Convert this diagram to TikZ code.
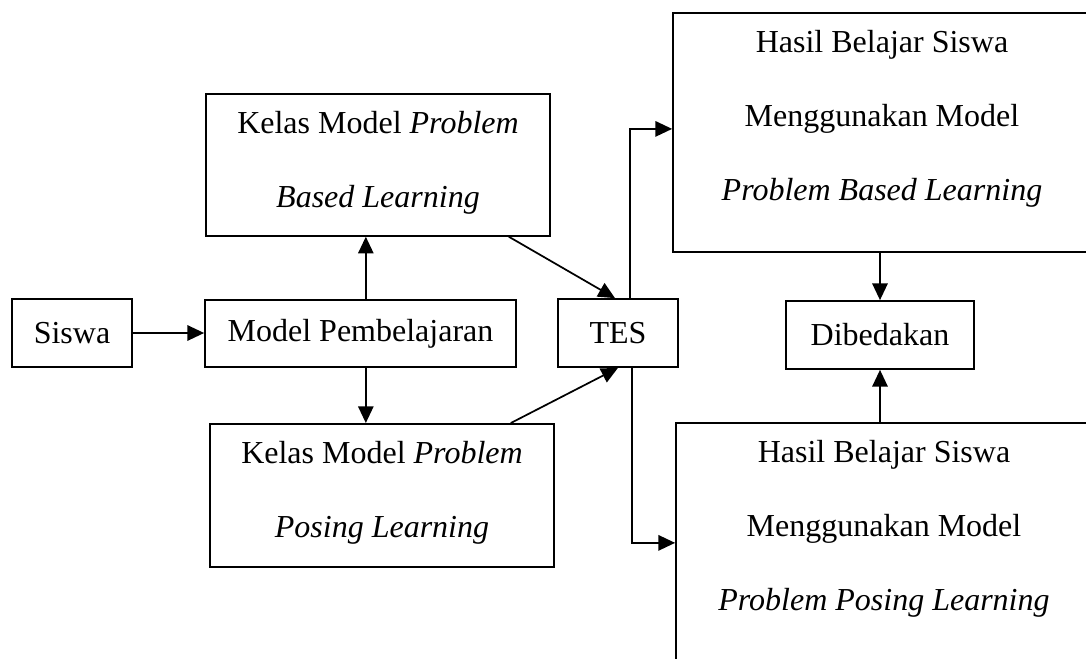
\documentclass[tikz,border=0pt]{standalone}
\usepackage{fontspec}
\setmainfont{Liberation Serif}
\usepackage{tikz}
\usetikzlibrary{positioning,arrows.meta}

\newcommand{\hurufbox}{\fontsize{24}{55.5}\selectfont}

\tikzset{
  kotak/.style={draw, line width=1.3pt, inner sep=0pt, font=\hurufbox},
  panah/.style={line width=1.3pt, -{Triangle[length=12.5pt, width=11.5pt]}},
}

\begin{document}
\begin{tikzpicture}[x=0.75pt, y=-0.75pt]
  % frame of the picture (boxes on the right run past it)
  \useasboundingbox (0,0) rectangle (1086,658);
  \clip (0,0) rectangle (1086,658);

  % left column
  \node[kotak, minimum width=90pt, minimum height=51pt] (siswa) at (72,333) {Siswa};
  \node[kotak, minimum width=233.25pt, minimum height=50.25pt] (model) at (360.5,333.5) {Model Pembelajaran};

  % the two classes
  \node[kotak, anchor=north, text height=30pt, text depth=76.5pt] (kelasA) at (378,93)
    {\parbox[t]{258pt}{\centering Kelas Model \textit{Problem}\\ \textit{Based Learning}}};
  \node[kotak, anchor=north, text height=30pt, text depth=77.25pt] (kelasB) at (382,423)
    {\parbox[t]{258pt}{\centering Kelas Model \textit{Problem}\\ \textit{Posing Learning}}};

  % test
  \node[kotak, minimum width=90pt, minimum height=51pt] (tes) at (618,333) {TES};

  % results
  \node[kotak, anchor=north, text height=30pt, text depth=149.25pt] (hasilA) at (882,12)
    {\parbox[t]{313.5pt}{\centering Hasil Belajar Siswa\\ Menggunakan Model\\ \textit{Problem Based Learning}}};
  \node[kotak, anchor=north, text height=30pt, text depth=150pt] (hasilB) at (884,422)
    {\parbox[t]{312pt}{\centering Hasil Belajar Siswa\\ Menggunakan Model\\ \textit{Problem Posing Learning}}};
  \node[kotak, minimum width=141pt, minimum height=51pt] (dib) at (880,335) {Dibedakan};

  % connectors
  \draw[panah] (siswa.east) -- (siswa.east -| model.west);
  \draw[panah] ([xshift=4pt]model.north) -- ([xshift=4pt]model.north |- kelasA.south);
  \draw[panah] ([xshift=4pt]model.south) -- ([xshift=4pt]model.south |- kelasB.north);
  \draw[panah] ([xshift=-31.5pt]kelasA.south east) -- ([xshift=-2.25pt]tes.north);
  \draw[panah] ([xshift=-33pt]kelasB.north east) -- (tes.south);
  \draw[panah] ([xshift=9pt]tes.north) |- ([yshift=2.6pt]hasilA.west);
  \draw[panah] ([xshift=10.5pt]tes.south) |- (hasilB.west);
  \draw[panah] (hasilA.south -| dib.north) -- (dib.north);
  \draw[panah] (hasilB.north -| dib.south) -- (dib.south);
\end{tikzpicture}
\end{document}
